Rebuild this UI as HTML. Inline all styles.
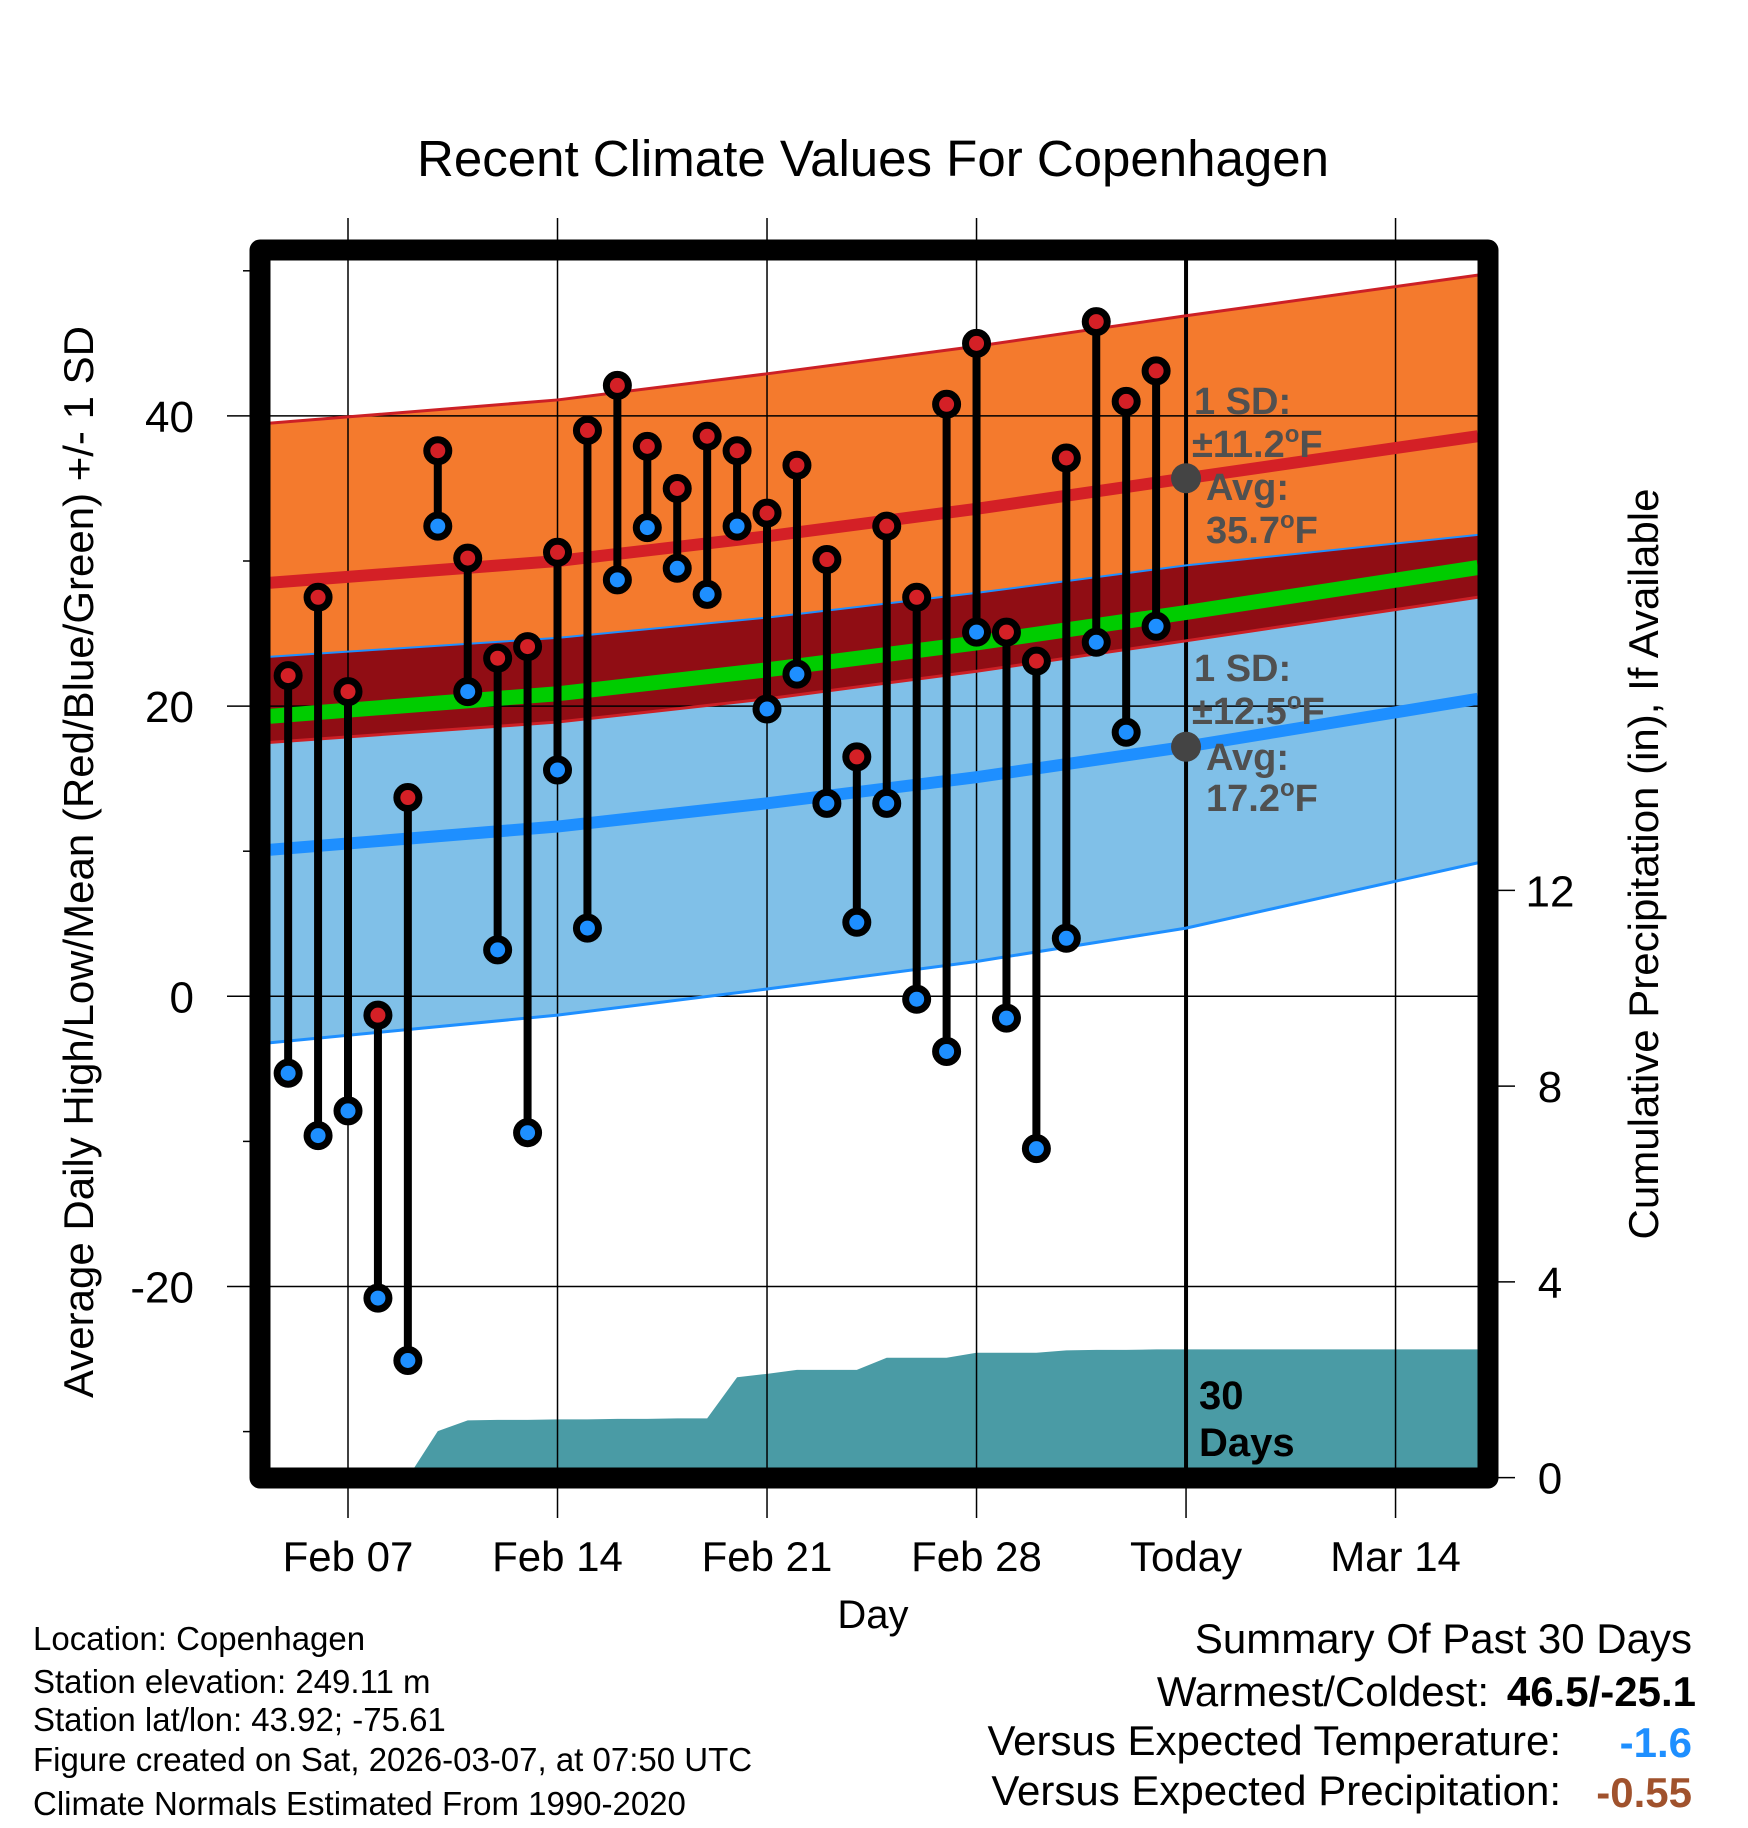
<!DOCTYPE html>
<html><head><meta charset="utf-8"><style>
body{margin:0;background:#fff;}
svg{display:block;font-family:"Liberation Sans",Arial,sans-serif;}
</style></head><body>
<svg id="chart" width="1748" height="1828" viewBox="0 0 1748 1828" xmlns="http://www.w3.org/2000/svg">
<g id="fills"></g><g id="grid"></g><g id="lines"></g><g id="marks"></g><g id="frame"></g><g id="texts"></g>
</svg>
<script>
// ---- data ----
const dayLabels = ["Feb 07","Feb 14","Feb 21","Feb 28","Today","Mar 14"];
const labelDays = [0,7,14,21,28,35];
const normDays = [-2.6,7,14,21,28,37.75];
const highMean = [28.5,30.0,31.7,33.6,35.7,38.6];
const highSD = [11.0,11.1,11.2,11.2,11.2,11.1];
const lowMean = [10.1,11.7,13.3,15.1,17.2,20.5];
const lowSD = [13.3,13.0,12.8,12.7,12.5,11.3];
const obsDays = [-2,-1,0,1,2,3,4,5,6,7,8,9,10,11,12,13,14,15,16,17,18,19,20,21,22,23,24,25,26,27];
const highs = [22.1,27.5,21.0,-1.3,13.7,37.6,30.2,23.3,24.1,30.6,39.0,42.1,37.9,35.0,38.6,37.6,33.3,36.6,30.1,16.5,32.4,27.5,40.8,45.0,25.1,23.1,37.1,46.5,41.0,43.1];
const lows = [-5.3,-9.6,-7.9,-20.8,-25.1,32.4,21.0,3.2,-9.4,15.6,4.7,28.7,32.3,29.5,27.7,32.4,19.8,22.2,13.3,5.1,13.3,-0.2,-3.8,25.1,-1.5,-10.5,4.0,24.4,18.2,25.5];
const precip = [0,0,0,0,0,0.95,1.17,1.18,1.18,1.19,1.19,1.2,1.2,1.21,1.21,2.05,2.12,2.2,2.2,2.2,2.45,2.45,2.45,2.55,2.55,2.55,2.6,2.61,2.61,2.62];
const tempTicks = [40,20,0,-20];
const tempMinor = [50,30,10,-10,-30];
const precipTicks = [0,4,8,12];

// ---- axes ----
const X0=270,X1=1478,Y0=260,Y1=1468;
const x = d => 348 + 29.93*d;
const yT = t => 996.3 - 14.51*t;
const yP = p => 1477.6 - 48.94*p;
const NS="http://www.w3.org/2000/svg";
function mk(tag, parent, attrs){const e=document.createElementNS(NS,tag);for(const k in attrs)e.setAttribute(k,attrs[k]);parent.appendChild(e);return e;}
const G=id=>document.getElementById(id);

function pts(arr){return normDays.map((d,i)=>[x(d),yT(arr[i])]);}
const hiUp=highMean.map((m,i)=>m+highSD[i]), hiLo=highMean.map((m,i)=>m-highSD[i]);
const loUp=lowMean.map((m,i)=>m+lowSD[i]), loLo=lowMean.map((m,i)=>m-lowSD[i]);
const meanM=highMean.map((m,i)=>(m+lowMean[i])/2);
const band=(a,b)=>{const p=pts(a),q=pts(b).reverse();return "M"+p.concat(q).map(v=>v.join(",")).join("L")+"Z";};
const line=a=>"M"+pts(a).map(v=>v.join(",")).join("L");

const defs=mk('defs',G('chart'),{});
const cp=mk('clipPath',defs,{id:'plotclip'});
mk('rect',cp,{x:X0,y:Y0,width:X1-X0,height:Y1-Y0});
G('fills').setAttribute('clip-path','url(#plotclip)');
G('lines').setAttribute('clip-path','url(#plotclip)');

let e;
e=mk('path',G('fills'),{d:band(hiUp,hiLo),fill:'#f47a2d'});

e=mk('path',G('fills'),{d:band(loUp,loLo),fill:'#80c0e8'});

e=mk('path',G('fills'),{d:band(loUp,hiLo),fill:'#900d14'});

let pp=[[x(obsDays[0]),yP(precip[0])]];
obsDays.forEach((d,i)=>pp.push([x(d),yP(precip[i])]));
pp.push([X1,yP(precip[precip.length-1])]);
const pd="M"+x(obsDays[0])+","+Y1+"L"+pp.map(v=>v.join(",")).join("L")+"L"+X1+","+Y1+"Z";
e=mk('path',G('fills'),{d:pd,fill:'#4a9ba5'});


e=mk('path',G('lines'),{d:line(meanM),stroke:'#00cc00','stroke-width':15,fill:'none'});

e=mk('path',G('lines'),{d:line(hiLo),stroke:'#cc2026','stroke-width':3,fill:'none'});

e=mk('path',G('lines'),{d:line(hiUp),stroke:'#cc2026','stroke-width':3,fill:'none'});

e=mk('path',G('lines'),{d:line(highMean),stroke:'#d42026','stroke-width':12,fill:'none'});

e=mk('path',G('lines'),{d:line(loUp),stroke:'#1e8fff','stroke-width':2,fill:'none'});

e=mk('path',G('lines'),{d:line(loLo),stroke:'#1e8fff','stroke-width':3,fill:'none'});

e=mk('path',G('lines'),{d:line(lowMean),stroke:'#1e8fff','stroke-width':12,fill:'none'});


labelDays.forEach((d,i)=>{
  const isToday = dayLabels[i]==="Today";
  e=mk('line',G('grid'),{x1:x(d),x2:x(d),y1:isToday?Y0:218,y2:Y1,stroke:'#000','stroke-width':isToday?4:1.5});
  
  e=mk('line',G('grid'),{x1:x(d),x2:x(d),y1:1488,y2:1518,stroke:'#000','stroke-width':1.5});
  
  e=mk('text',G('texts'),{x:x(d),y:1571,'font-size':42,'text-anchor':'middle',fill:'#000'});
  e.textContent=dayLabels[i];
  
});
tempTicks.forEach(t=>{
  e=mk('line',G('grid'),{x1:227,x2:X1,y1:yT(t),y2:yT(t),stroke:'#000','stroke-width':1.5});
  
  e=mk('text',G('texts'),{x:194,y:yT(t)+16,'font-size':44,'text-anchor':'end',fill:'#000'});
  e.textContent=t;
  
});
tempMinor.forEach(t=>{
  e=mk('line',G('grid'),{x1:243,x2:255,y1:yT(t),y2:yT(t),stroke:'#000','stroke-width':1.5});
  
});
precipTicks.forEach(p=>{
  e=mk('line',G('grid'),{x1:1490,x2:1515,y1:yP(p),y2:yP(p),stroke:'#000','stroke-width':1.5});
  
  e=mk('text',G('texts'),{x:1550,y:yP(p)+16,'font-size':44,'text-anchor':'middle',fill:'#000'});
  e.textContent=p;
  
});

obsDays.forEach((d,i)=>{
  e=mk('line',G('marks'),{x1:x(d),x2:x(d),y1:yT(highs[i]),y2:yT(lows[i]),stroke:'#000','stroke-width':8});
  
  e=mk('circle',G('marks'),{cx:x(d),cy:yT(highs[i]),r:11,fill:'#d42026',stroke:'#000','stroke-width':7});
  
  e=mk('circle',G('marks'),{cx:x(d),cy:yT(lows[i]),r:11,fill:'#1e8fff',stroke:'#000','stroke-width':7});
  
});
e=mk('circle',G('marks'),{cx:x(28),cy:yT(highMean[4]),r:15,fill:'#444'});

e=mk('circle',G('marks'),{cx:x(28),cy:yT(lowMean[4]),r:15,fill:'#444'});


e=mk('rect',G('frame'),{x:260,y:250,width:1228,height:1228,fill:'none',stroke:'#000','stroke-width':21,'stroke-linejoin':'round'});

</script>
<svg style="position:absolute;left:0;top:0" width="1748" height="1828" xmlns="http://www.w3.org/2000/svg" font-family="Liberation Sans, Arial, sans-serif">
<text x="873" y="176" font-size="51" text-anchor="middle">Recent Climate Values For Copenhagen</text>
<text transform="translate(93,862) rotate(-90)" font-size="42" text-anchor="middle">Average Daily High/Low/Mean (Red/Blue/Green) +/- 1 SD</text>
<text transform="translate(1658,864) rotate(-90)" font-size="42" text-anchor="middle">Cumulative Precipitation (in), If Available</text>
<text x="873" y="1628" font-size="40" text-anchor="middle">Day</text>
<g font-size="38" font-weight="bold" fill="#505050">
<text x="1194" y="414">1 SD:</text><text x="1192" y="457">±11.2<tspan font-size="24" dy="-15">o</tspan><tspan dy="15">F</tspan></text>
<text x="1206" y="500">Avg:</text><text x="1206" y="543">35.7<tspan font-size="24" dy="-15">o</tspan><tspan dy="15">F</tspan></text>
</g>
<g font-size="38" font-weight="bold" fill="#505050">
<text x="1194" y="681">1 SD:</text><text x="1192" y="724">±12.5<tspan font-size="24" dy="-15">o</tspan><tspan dy="15">F</tspan></text>
<text x="1206" y="770">Avg:</text><text x="1206" y="811">17.2<tspan font-size="24" dy="-15">o</tspan><tspan dy="15">F</tspan></text>
</g>
<g font-size="40" font-weight="bold" fill="#000">
<text x="1199" y="1409">30</text><text x="1199" y="1456">Days</text>
</g>
<g font-size="33" fill="#000">
<text x="33" y="1650">Location: Copenhagen</text>
<text x="33" y="1693">Station elevation: 249.11 m</text>
<text x="33" y="1731">Station lat/lon: 43.92; -75.61</text>
<text x="33" y="1771">Figure created on Sat, 2026-03-07, at 07:50 UTC</text>
<text x="33" y="1815">Climate Normals Estimated From 1990-2020</text>
</g>
<g font-size="42" fill="#000">
<text x="1692" y="1653" text-anchor="end">Summary Of Past 30 Days</text>
<text x="1489" y="1706" text-anchor="end">Warmest/Coldest:</text>
<text x="1696" y="1706" text-anchor="end" font-weight="bold">46.5/-25.1</text>
<text x="1561" y="1755" text-anchor="end">Versus Expected Temperature:</text>
<text x="1692" y="1757" text-anchor="end" font-weight="bold" fill="#1e8fff">-1.6</text>
<text x="1561" y="1805" text-anchor="end">Versus Expected Precipitation:</text>
<text x="1692" y="1807" text-anchor="end" font-weight="bold" fill="#a0522d">-0.55</text>
</g>
</svg>
</body></html>
